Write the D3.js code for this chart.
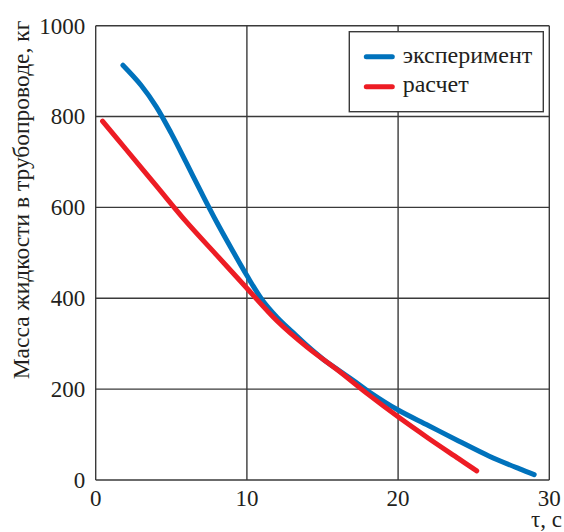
<!DOCTYPE html>
<html>
<head>
<meta charset="utf-8">
<script src="https://cdn.jsdelivr.net/npm/d3@7"></script>
<style>
    body { margin: 0; background: #fff; }
</style>
</head>
<body>
<div id="chart"></div>
<script>
// Data: time (s) and liquid mass (kg)
const experimentT = [1.8, 3, 4, 5, 6, 7, 8, 9, 10, 11, 12, 13, 14, 15, 16, 17, 18, 20, 22, 24, 26, 28, 29];
const experimentM = [913, 869, 822, 763, 698, 632, 568, 508, 450, 397, 358, 326, 295, 267, 243, 220, 196, 154, 120, 86, 53, 25, 12];
const calcT = [0.45, 2, 4, 6, 8, 10, 12, 14, 16, 18, 20, 22, 24, 25.2];
const calcM = [790, 728, 648, 568, 495, 422, 350, 292, 242, 189, 139, 92, 47, 20];

const xTicks = [0, 10, 20, 30];
const yTicks = [0, 200, 400, 600, 800, 1000];
const seriesNames = ['эксперимент', 'расчет'];
const seriesColors = ['#0072bc', '#ed1c24'];
const yTitle = 'Масса жидкости в трубопроводе, кг';
const xTitle = 'τ, с';

const fontFamily = "'Liberation Serif'";
const totalWidth = 564, totalHeight = 532;
const margin = { top: 25.7, right: 14.7, bottom: 52, left: 95.7 };
const width = totalWidth - margin.left - margin.right;
const height = totalHeight - margin.top - margin.bottom;

const svg = d3.select('#chart')
    .append('svg')
    .attr('width', totalWidth)
    .attr('height', totalHeight);

const g = svg.append('g')
    .attr('transform', `translate(${margin.left},${margin.top})`);

// Scales
const xScale = d3.scaleLinear().domain([0, 30]).range([0, width]);
const yScale = d3.scaleLinear().domain([0, 1000]).range([height, 0]);

// Grid lines
g.selectAll('.vgrid')
    .data(xTicks)
    .enter()
    .append('line')
    .attr('x1', d => xScale(d))
    .attr('x2', d => xScale(d))
    .attr('y1', 0)
    .attr('y2', height)
    .attr('stroke', '#3a3a3a')
    .attr('stroke-width', 1.4);

g.selectAll('.hgrid')
    .data(yTicks)
    .enter()
    .append('line')
    .attr('x1', 0)
    .attr('x2', width)
    .attr('y1', d => yScale(d))
    .attr('y2', d => yScale(d))
    .attr('stroke', '#3a3a3a')
    .attr('stroke-width', 1.4);

// Tick labels
g.selectAll('.xlabel')
    .data(xTicks)
    .enter()
    .append('text')
    .attr('x', d => xScale(d))
    .attr('y', height + 26)
    .attr('text-anchor', 'middle')
    .style('font-family', fontFamily)
    .style('font-size', '23px')
    .attr('fill', '#231f20')
    .text(d => d);

g.selectAll('.ylabel')
    .data(yTicks)
    .enter()
    .append('text')
    .attr('x', -10.5)
    .attr('y', d => yScale(d) + 7.8)
    .attr('text-anchor', 'end')
    .style('font-family', fontFamily)
    .style('font-size', '23px')
    .attr('fill', '#231f20')
    .text(d => d);

// Axis titles
svg.append('text')
    .attr('transform', 'translate(28.5,200) rotate(-90)')
    .attr('text-anchor', 'middle')
    .style('font-family', fontFamily)
    .style('font-size', '23.5px')
    .attr('fill', '#231f20')
    .text(yTitle);

svg.append('text')
    .attr('x', 562)
    .attr('y', 527)
    .attr('text-anchor', 'end')
    .style('font-family', fontFamily)
    .style('font-size', '23px')
    .attr('fill', '#231f20')
    .text(xTitle);

// Lines
const line = d3.line()
    .x(d => xScale(d[0]))
    .y(d => yScale(d[1]))
    .curve(d3.curveCatmullRom.alpha(0.5));

const series = [
    d3.zip(experimentT, experimentM),
    d3.zip(calcT, calcM)
];

g.selectAll('.series')
    .data(series)
    .enter()
    .append('path')
    .attr('fill', 'none')
    .attr('stroke', (d, i) => seriesColors[i])
    .attr('stroke-width', 5)
    .attr('stroke-linecap', 'round')
    .attr('stroke-linejoin', 'round')
    .attr('d', line);

// Legend
const legend = svg.append('g').attr('transform', 'translate(349.3,31.7)');

legend.append('rect')
    .attr('width', 194)
    .attr('height', 80)
    .attr('fill', '#fff')
    .attr('stroke', '#3a3a3a')
    .attr('stroke-width', 1.4);

seriesNames.forEach((name, i) => {
    legend.append('line')
        .attr('x1', 17)
        .attr('x2', 43)
        .attr('y1', 25 + i * 30)
        .attr('y2', 25 + i * 30)
        .attr('stroke', seriesColors[i])
        .attr('stroke-width', 5)
        .attr('stroke-linecap', 'round');
    legend.append('text')
        .attr('x', 53.4)
        .attr('y', 31.6 + i * 29)
        .style('font-family', fontFamily)
        .style('font-size', '24px')
        .attr('fill', '#231f20')
        .text(name);
});
</script>
</body>
</html>
